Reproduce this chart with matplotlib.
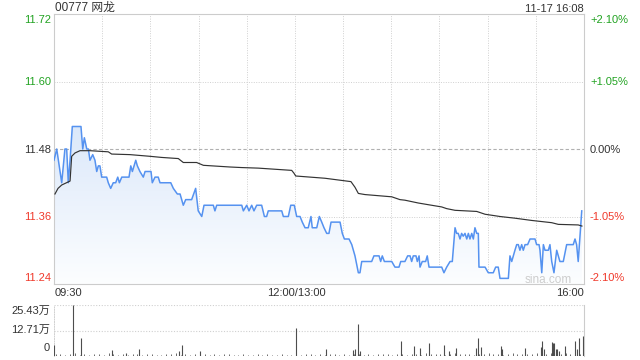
import matplotlib
matplotlib.use('Agg')
import matplotlib.pyplot as plt
import numpy as np
from matplotlib.patches import Polygon

plt.rcParams['font.family'] = ['Liberation Sans', 'Noto Sans CJK SC', 'DejaVu Sans']

# ---------------- data ----------------
title = "00777 网龙"
stamp = "11-17 16:08"
prev_close = 11.48
price_ticks = [11.72, 11.60, 11.48, 11.36, 11.24]
pct_labels = ["+2.10%", "+1.05%", "0.00%", "-1.05%", "-2.10%"]
time_labels = ["09:30", "12:00/13:00", "16:00"]
vol_ticks = [25.43, 12.71, 0]
vol_labels = ["25.43万", "12.71万", "0"]

# trading minutes since 09:30 (12:00 and 13:00 both = 150, 16:00 = 330)
price_t = [0, 1.7, 4.8, 6.8, 7.9, 8.9, 10.0, 11.4, 16.8, 17.9, 18.9, 20.4, 21.4, 22.4,
           24.1, 25.5, 26.6, 27.6, 28.6, 29.7, 32.8, 33.8, 35.3, 36.9, 38.4, 39.7, 40.7,
           42.2, 46.7, 47.8, 48.8, 50.9, 51.9, 53.5, 55.6, 56.7, 60.4, 61.2, 62.9, 64.9,
           66.0, 72.7, 74.3, 76.8, 78.5, 80.5, 82.0, 85.7, 88.2, 89.8, 92.0, 93.4, 99.2,
           100.2, 101.3, 116.9, 117.9, 120.0, 121.4, 123.1, 124.5, 126.2, 129.3, 131.0,
           132.4, 133.4, 141.8, 142.8, 145.9, 147.4, 149.6, 151.1, 153.2, 154.6, 156.3,
           158.3, 160.0, 160.8, 163.6, 165.2, 166.7, 168.1, 169.8, 171.2, 172.5, 178.1,
           179.5, 180.8, 183.7, 185.4, 187.4, 189.5, 190.5, 191.6, 197.8, 199.2, 202.4,
           203.4, 204.4, 205.7, 210.3, 212.3, 214.8, 215.9, 218.5, 220.2, 221.7, 222.7,
           223.7, 225.4, 226.2, 227.3, 227.9, 229.3, 231.4, 232.4, 233.5, 241.4, 242.8,
           244.5, 246.6, 248.0, 249.7, 250.7, 251.7, 252.8, 253.8, 254.8, 255.9, 257.0,
           258.0, 259.0, 260.1, 261.1, 262.1, 263.2, 264.2, 264.6, 268.4, 270.4, 273.5,
           275.0, 276.6, 277.7, 282.9, 283.9, 285.0, 287.0, 288.1, 289.1, 290.1, 291.2,
           292.2, 293.3, 294.9, 296.4, 299.5, 300.5, 302.0, 302.6, 303.7, 304.7, 305.7,
           307.8, 308.8, 309.9, 311.3, 313.0, 314.0, 315.0, 317.1, 319.2, 323.3, 324.4,
           325.4, 326.4, 328.6]
price_v = [11.46, 11.48, 11.42, 11.48, 11.48, 11.42, 11.46, 11.52, 11.52, 11.48, 11.50,
           11.48, 11.48, 11.46, 11.47, 11.46, 11.44, 11.45, 11.45, 11.43, 11.43, 11.42,
           11.41, 11.42, 11.42, 11.43, 11.42, 11.43, 11.43, 11.45, 11.44, 11.46, 11.45,
           11.44, 11.43, 11.44, 11.44, 11.42, 11.43, 11.43, 11.42, 11.42, 11.41, 11.40,
           11.40, 11.38, 11.39, 11.39, 11.41, 11.37, 11.36, 11.38, 11.38, 11.37, 11.38,
           11.38, 11.37, 11.38, 11.37, 11.38, 11.37, 11.38, 11.38, 11.36, 11.36, 11.37,
           11.37, 11.36, 11.36, 11.38, 11.38, 11.36, 11.36, 11.35, 11.34, 11.34, 11.36,
           11.34, 11.34, 11.36, 11.35, 11.34, 11.33, 11.33, 11.35, 11.35, 11.33, 11.32,
           11.32, 11.31, 11.29, 11.26, 11.26, 11.28, 11.28, 11.29, 11.29, 11.28, 11.29,
           11.28, 11.28, 11.27, 11.27, 11.28, 11.28, 11.29, 11.29, 11.28, 11.29, 11.29,
           11.28, 11.29, 11.27, 11.28, 11.28, 11.29, 11.27, 11.27, 11.26, 11.27, 11.28,
           11.28, 11.34, 11.33, 11.33, 11.32, 11.33, 11.325, 11.33, 11.32, 11.33, 11.32,
           11.33, 11.32, 11.34, 11.33, 11.33, 11.27, 11.27, 11.26, 11.26, 11.27, 11.27,
           11.25, 11.25, 11.29, 11.28, 11.30, 11.31, 11.31, 11.30, 11.31, 11.30, 11.31,
           11.31, 11.32, 11.32, 11.31, 11.31, 11.30, 11.26, 11.31, 11.30, 11.30, 11.31,
           11.28, 11.26, 11.30, 11.29, 11.28, 11.28, 11.31, 11.31, 11.32, 11.31, 11.28,
           11.37]

avg_t = [0.6, 2.5, 4.8, 10.0, 11.0, 13.1, 16.2, 22.4, 33.8, 35.9, 47.3, 59.8, 67.1, 77.4,
         80.5, 88.8, 93.0, 109.6, 116.9, 127.2, 148.0, 149.4, 150.5, 168.7, 184.9, 187.4,
         189.5, 193.6, 210.3, 215.4, 218.5, 226.8, 233.0, 241.4, 244.5, 249.7, 263.2,
         268.4, 277.7, 287.0, 297.4, 309.9, 314.0, 326.4, 328.7]
avg_v = [11.400, 11.410, 11.416, 11.423, 11.467, 11.473, 11.477, 11.477, 11.475, 11.471,
         11.470, 11.467, 11.465, 11.463, 11.456, 11.456, 11.451, 11.448, 11.447, 11.446,
         11.442, 11.437, 11.432, 11.428, 11.422, 11.412, 11.401, 11.399, 11.395, 11.390,
         11.389, 11.384, 11.381, 11.377, 11.374, 11.371, 11.369, 11.364, 11.360, 11.357,
         11.353, 11.349, 11.346, 11.345, 11.343]

# volume, in 万 shares
vol_t = [0, 12.0, 17.0, 35.9, 44.8, 53.1, 78.0, 80.1, 91.3, 150.7, 169.4, 186.4, 187.6,
         189.5, 191.0, 216.2, 224.3, 228.3, 234.1, 243.0, 246.6, 250.7, 263.2, 264.2,
         266.3, 278.8, 279.4, 293.7, 303.7, 304.3, 305.7, 310.3, 310.9, 311.9, 313.0,
         313.8, 315.0, 318.8, 325.0, 326.1, 327.1, 330.0]
vol_v = [5.6, 25.43, 8.8, 3.0, 1.5, 3.7, 2.5, 5.6, 2.5, 14.2, 3.7, 3.0, 3.7, 15.8, 2.5,
         7.6, 5.1, 4.2, 6.3, 5.6, 2.5, 3.9, 4.2, 8.8, 4.6, 5.1, 3.7, 4.2, 4.6, 7.3, 3.7,
         6.8, 6.3, 6.3, 3.7, 3.4, 2.5, 5.1, 7.6, 3.4, 9.0, 9.8]
small_vol_t = list(range(1, 330, 3))
small_vol_v = [0.8, 1.2, 0.6, 0.9, 1.4, 0.7, 1.0, 0.5, 1.1, 0.8,
               0.6, 1.3, 0.9, 0.7, 1.0, 0.6, 1.2, 0.8, 0.5, 0.9,
               1.1, 0.7, 0.6, 1.0, 0.8, 1.3, 0.6, 0.9, 0.7, 1.2,
               0.8, 1.0, 0.6, 0.9, 0.5, 0.8, 1.1, 0.7, 0.6, 0.9,
               0.7, 0.5, 0.8, 0.6, 0.9, 0.7, 0.5, 0.8, 0.6, 0.7,
               0.9, 0.6, 0.8, 1.0, 0.7, 0.9, 0.6, 0.8, 1.2, 0.7,
               0.9, 0.6, 1.0, 0.8, 0.7, 1.1, 0.6, 0.9, 0.8, 1.0,
               0.7, 1.2, 0.9, 0.6, 1.0, 0.8, 0.7, 1.3, 0.9, 0.8,
               1.1, 0.7, 1.0, 1.4, 0.8, 0.9, 1.2, 0.7, 1.0, 0.8,
               1.3, 0.9, 1.1, 0.7, 1.0, 1.5, 0.8, 1.2, 0.9, 1.1,
               1.4, 0.8, 1.0, 1.6, 1.2, 0.9, 1.3, 1.1, 1.5, 1.0]

# ---------------- styles ----------------
GREEN = '#22a322'
RED = '#f0392b'
DARK = '#333333'
FRAME = '#cccccc'
GRID = '#d0d0d0'
BLUE = '#5592f0'
W, H = 640, 360

fig = plt.figure(figsize=(6.4, 3.6), dpi=100)
fig.patch.set_facecolor('white')

def fx(px):
    return px / W

def fy(py):
    return 1 - py / H

# ---------------- price axes ----------------
ax = fig.add_axes([fx(54), fy(284), fx(530), 270 / H])
ax.set_xlim(0, 330)
ax.set_ylim(price_ticks[-1], price_ticks[0])
for s in ax.spines.values():
    s.set_color(FRAME)
    s.set_linewidth(0.8)
ax.set_xticks([])
ax.set_yticks([])

for m in range(30, 330, 30):
    ax.axvline(m, color=GRID, lw=0.7, ls=(0, (1, 1.5)), zorder=1)
for p in price_ticks[1:-1]:
    if p == prev_close:
        ax.axhline(p, color='#b0b0b0', lw=0.8, ls=(0, (3, 2)), zorder=1)
    else:
        ax.axhline(p, color=GRID, lw=0.7, ls=(0, (1, 1.5)), zorder=1)

# gradient fill under price line
ylow = price_ticks[-1]
verts = [(price_t[0], ylow)] + list(zip(price_t, price_v)) + [(price_t[-1], ylow)]
poly = Polygon(verts, closed=True, facecolor='none', edgecolor='none')
ax.add_patch(poly)
g = np.linspace(0, 1, 256).reshape(-1, 1, 1)
top_c = np.array([0.86, 0.91, 0.98])
bot_c = np.array([0.99, 0.995, 1.0])
img = top_c * (1 - g) + bot_c * g
im = ax.imshow(img, extent=[0, 330, ylow, max(price_v)], origin='upper',
               aspect='auto', zorder=2, interpolation='bilinear')
im.set_clip_path(poly)

ax.plot(price_t, price_v, color=BLUE, lw=1.1, zorder=4)
ax.plot(avg_t, avg_v, color=DARK, lw=0.85, zorder=5)

fig.text(fx(572), fy(280), 'sina.com', ha='right', va='center',
         fontsize=8.5, color='#cdcdcd', zorder=6)

# price labels
label_y = [20, 82, 149.5, 217, 278]
for p, pct, yy in zip(price_ticks, pct_labels, label_y):
    c = GREEN if p > prev_close else (RED if p < prev_close else DARK)
    fig.text(fx(51.5), fy(yy), f"{p:.2f}", ha='right', va='center', fontsize=8, color=c)
    fig.text(fx(590), fy(yy), pct, ha='left', va='center', fontsize=8, color=c)

# title & stamp
fig.text(fx(55), fy(8), title, ha='left', va='center', fontsize=8.5, color=DARK)
fig.text(fx(584), fy(8.5), stamp, ha='right', va='center', fontsize=8, color=DARK)

# time labels
fig.text(fx(55), fy(292.5), time_labels[0], ha='left', va='center', fontsize=8, color=DARK)
fig.text(fx(296), fy(292.5), time_labels[1], ha='center', va='center', fontsize=8, color=DARK)
fig.text(fx(584), fy(292.5), time_labels[2], ha='right', va='center', fontsize=8, color=DARK)

# ---------------- volume axes ----------------
axv = fig.add_axes([fx(54), fy(356), fx(530), 51 / H])
axv.set_xlim(0, 330.5)
axv.set_ylim(0, vol_ticks[0])
axv.set_xticks([])
axv.set_yticks([])
for k in ['top', 'bottom']:
    axv.spines[k].set_visible(False)
axv.spines['left'].set_color(GRID)
axv.spines['left'].set_linestyle((0, (1, 1.5)))
axv.spines['left'].set_linewidth(0.7)
axv.spines['right'].set_color(FRAME)
axv.spines['right'].set_linewidth(0.8)
for v in vol_ticks[:2]:
    axv.axhline(v, color=GRID, lw=0.8, ls=(0, (1, 1.5)), zorder=1)
axv.vlines(small_vol_t, 0, small_vol_v, color='#6a6a6a', lw=0.7, zorder=2)
axv.vlines(vol_t, 0, vol_v, color='#4d4d4d', lw=0.8, zorder=3)

vol_label_y = [311, 330, 348]
for lab, yy in zip(vol_labels, vol_label_y):
    fig.text(fx(50), fy(yy), lab, ha='right', va='center', fontsize=8, color=DARK)

fig.savefig('out.png', dpi=100, facecolor='white')
